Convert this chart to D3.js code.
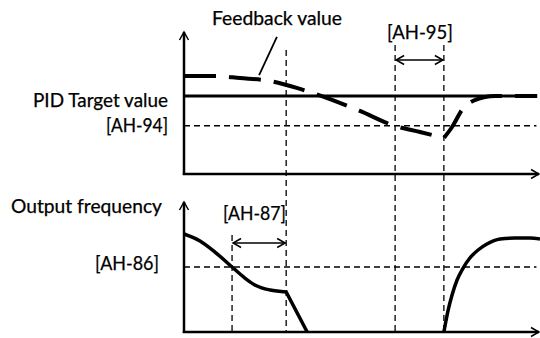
<!DOCTYPE html>
<html>
<head>
<meta charset="utf-8">
<script src="https://cdn.jsdelivr.net/npm/d3@7"></script>
<style>
body { margin: 0; background: #fff; }
text { font-family: Lato, "Open Sans", sans-serif; font-size: 18.5px; fill: #000; stroke: #000; stroke-width: 0.25px; }
</style>
</head>
<body>
<svg id="chart" width="540" height="338"></svg>
<script>
// time runs 0..100 across the window, values 0..100 of each panel
var targetValue = 55;       // PID target value
var ah94Level = 34;         // [AH-94] sleep trigger level
var ah86Level = 50;         // [AH-86] sleep frequency level
var eventTimes = [13.5, 28.7, 59.3, 73.0];

var feedbackT = [0, 8.7, 15.7, 24.2, 32.6, 41.0, 49.4, 59.3, 66.3, 73.0];
var feedbackV = [69.0, 69.0, 67.6, 65.5, 59.9, 52.8, 44.4, 33.8, 29.6, 25.4];
var recoverT = [73.0, 75.3, 78.1, 81.7, 87.4, 99.2];
var recoverV = [25.4, 33.1, 45.1, 52.1, 54.9, 54.9];

var outDecelT = [0, 4.5, 8.7, 13.5, 17.1, 19.9, 24.2, 28.7];
var outDecelV = [75.4, 70.0, 61.5, 50.0, 41.5, 36.2, 32.3, 30.8];
var outStopT = [28.7, 34.6];
var outStopV = [30.8, 0];
var outRestartT = [73.0, 74.2, 75.3, 76.7, 78.4, 80.3, 82.6, 85.1, 88.8, 93.0, 97.2, 100];
var outRestartV = [0, 16.9, 28.5, 40.0, 49.2, 56.9, 63.1, 67.7, 71.5, 72.3, 72.3, 71.5];

var svg = d3.select("#chart");

var x = d3.scaleLinear().domain([0, 100]).range([184, 540]);
var yTop = d3.scaleLinear().domain([0, 100]).range([174, 32]);
var yBot = d3.scaleLinear().domain([0, 100]).range([332, 202]);

function pts(ts, vs) { return ts.map(function(t, i) { return [t, vs[i]]; }); }

var defs = svg.append("defs");
defs.append("marker")
	.attr("id", "head")
	.attr("markerUnits", "userSpaceOnUse")
	.attr("viewBox", "-10 -6 12 12")
	.attr("markerWidth", 12).attr("markerHeight", 12)
	.attr("refX", 0).attr("refY", 0)
	.attr("orient", "auto-start-reverse")
	.append("path")
	.attr("d", "M-8,-4.5L0,0L-8,4.5")
	.attr("fill", "none").attr("stroke", "#000").attr("stroke-width", 1.5);

// vertical dashed event lines
var vTops = [yBot(74.6), yTop(87.3), yTop(90.8), yTop(90.8)];
svg.selectAll(".evt").data(eventTimes).enter().append("line")
	.attr("class", "evt")
	.attr("x1", function(d) { return x(d); }).attr("x2", function(d) { return x(d); })
	.attr("y1", function(d, i) { return vTops[i]; })
	.attr("y2", yBot(0))
	.attr("stroke", "#000").attr("stroke-width", 1.3)
	.attr("stroke-dasharray", "6,4");

// horizontal dashed levels
svg.append("line")
	.attr("x1", x(0)).attr("x2", x(99))
	.attr("y1", yTop(ah94Level)).attr("y2", yTop(ah94Level))
	.attr("stroke", "#000").attr("stroke-width", 1.5).attr("stroke-dasharray", "6,4");
svg.append("line")
	.attr("x1", x(0)).attr("x2", x(99))
	.attr("y1", yBot(ah86Level)).attr("y2", yBot(ah86Level))
	.attr("stroke", "#000").attr("stroke-width", 1.3).attr("stroke-dasharray", "6,4");

// target line
svg.append("line")
	.attr("x1", x(0)).attr("x2", x(99.2))
	.attr("y1", yTop(targetValue)).attr("y2", yTop(targetValue))
	.attr("stroke", "#000").attr("stroke-width", 3);

// feedback curve: smooth fall, kink at restart, smooth recovery
var lineTop = d3.line().x(function(d) { return x(d[0]); }).y(function(d) { return yTop(d[1]); })
	.curve(d3.curveMonotoneX);
var fbPath = lineTop(pts(feedbackT, feedbackV)) + lineTop(pts(recoverT, recoverV)).replace(/^M/, "L");
svg.append("path")
	.attr("d", fbPath)
	.attr("fill", "none").attr("stroke", "#000").attr("stroke-width", 4)
	.attr("stroke-dasharray", "32,13");

// output frequency
var lineBot = d3.line().x(function(d) { return x(d[0]); }).y(function(d) { return yBot(d[1]); })
	.curve(d3.curveMonotoneX);
var lineBotLin = d3.line().x(function(d) { return x(d[0]); }).y(function(d) { return yBot(d[1]); });
svg.append("path")
	.attr("d", lineBot(pts(outDecelT, outDecelV)) + lineBotLin(pts(outStopT, outStopV)).replace(/^M/, "L"))
	.attr("fill", "none").attr("stroke", "#000").attr("stroke-width", 3.5)
	.attr("stroke-linejoin", "miter");
svg.append("path")
	.attr("d", lineBot(pts(outRestartT, outRestartV)))
	.attr("fill", "none").attr("stroke", "#000").attr("stroke-width", 3.5);

// axes
[yTop, yBot].forEach(function(ys) {
	svg.append("line")
		.attr("x1", x(0)).attr("x2", x(0))
		.attr("y1", ys(0) + 1).attr("y2", ys(100))
		.attr("stroke", "#000").attr("stroke-width", 2.5)
		.attr("marker-end", "url(#head)");
	svg.append("line")
		.attr("x1", x(0) - 1.2).attr("x2", x(100) - 1)
		.attr("y1", ys(0)).attr("y2", ys(0))
		.attr("stroke", "#000").attr("stroke-width", 2.5)
		.attr("marker-end", "url(#head)");
});

// interval arrows
svg.append("line")
	.attr("x1", x(eventTimes[2]) + 1).attr("x2", x(eventTimes[3]) - 1)
	.attr("y1", 60).attr("y2", 60)
	.attr("stroke", "#000").attr("stroke-width", 1.3)
	.attr("marker-start", "url(#head)").attr("marker-end", "url(#head)");
svg.append("line")
	.attr("x1", x(eventTimes[0]) + 1).attr("x2", x(eventTimes[1]) - 1)
	.attr("y1", 243).attr("y2", 243)
	.attr("stroke", "#000").attr("stroke-width", 1.3)
	.attr("marker-start", "url(#head)").attr("marker-end", "url(#head)");

// leader from "Feedback value"
svg.append("line")
	.attr("x1", x(26.1)).attr("y1", yTop(96.5))
	.attr("x2", x(21.1)).attr("y2", yTop(69.7))
	.attr("stroke", "#000").attr("stroke-width", 1.8);

// labels
var labels = [
	{ t: "Feedback value", x: 212, y: 25, w: 130, a: "start" },
	{ t: "[AH-95]", x: 387, y: 39, w: 66, a: "start" },
	{ t: "PID Target value", x: 168, y: 107, w: 135, a: "end" },
	{ t: "[AH-94]", x: 168, y: 132, w: 62, a: "end" },
	{ t: "Output frequency", x: 162, y: 213, w: 151, a: "end" },
	{ t: "[AH-87]", x: 223, y: 220, w: 63, a: "start" },
	{ t: "[AH-86]", x: 159, y: 270, w: 64, a: "end" }
];
svg.selectAll(".lbl").data(labels).enter().append("text")
	.attr("class", "lbl")
	.attr("x", function(d) { return d.x; })
	.attr("y", function(d) { return d.y; })
	.attr("text-anchor", function(d) { return d.a; })
	.attr("textLength", function(d) { return d.w; })
	.attr("lengthAdjust", "spacingAndGlyphs")
	.text(function(d) { return d.t; });
</script>
</body>
</html>
